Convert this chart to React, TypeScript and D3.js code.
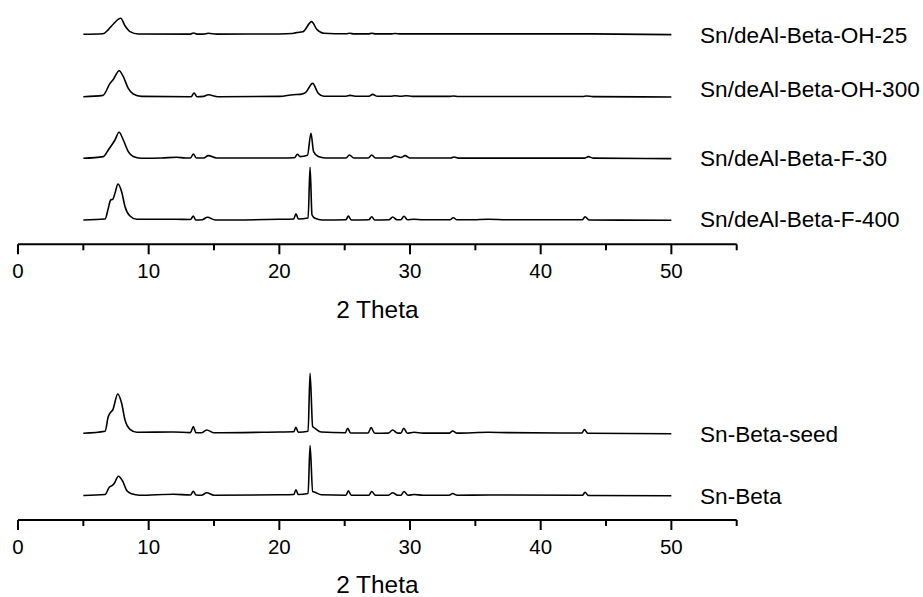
import React from "react";
import * as d3 from "d3";

type Pt = [number, number];

// 2θ (deg) vs intensity (a.u.)
const snDeAlOH25: Pt[] = [[5,0],[6.5,0.5],[6.9,4.5],[7.3,10.3],[7.86,16],[8.2,8.3],[8.57,2.7],[9.2,0.3],[13.2,0.2],[13.42,1.3],[13.7,0.2],[14.2,0.2],[14.56,1],[15.2,0.2],[20,0.3],[21.0,0.8],[21.3,1.7],[21.8,2.5],[22.47,12.7],[22.86,5],[23.4,1],[25.1,0.5],[25.4,1],[25.7,0.4],[26.8,0.4],[27.07,1],[27.4,0.4],[28.5,0.4],[28.85,0.8],[29.3,0.4],[43.8,0.4],[50,-0.3]];
const snDeAlOH300: Pt[] = [[5,0],[6.5,1.3],[7.04,13.3],[7.29,17.3],[7.75,26],[8.06,20],[8.44,8.3],[8.82,2.7],[9.46,0.3],[13.25,0],[13.47,3.7],[13.7,0],[14.2,0.3],[14.56,2],[15.3,0],[20,0.3],[21.07,2],[21.6,2.3],[22.0,4],[22.55,13.3],[22.98,3.3],[23.4,0.5],[25.1,0.4],[25.41,1.3],[25.8,0.4],[26.85,0.4],[27.14,2.3],[27.5,0.4],[28.5,0.4],[28.85,1],[29.3,0.5],[29.69,1],[30.2,0.3],[33.0,0.3],[33.31,0.7],[33.7,0.2],[43.2,0.2],[43.52,0.7],[44,0.1],[50,-0.3]];
const snDeAlF30: Pt[] = [[5,0],[6.53,1.7],[6.91,8.3],[7.17,13.3],[7.42,18.3],[7.73,26],[8.06,18.3],[8.44,6.7],[8.82,1.7],[9.4,0],[11,0.3],[12.14,1],[12.8,0.3],[13.2,0.3],[13.42,4.3],[13.65,0.3],[14.2,0.3],[14.56,2.7],[15.2,0.3],[20,0.3],[21.15,0.5],[21.38,4],[21.6,1.7],[22.15,3],[22.42,25],[22.62,6.7],[22.98,1.7],[23.5,0.3],[25.1,0.3],[25.36,3.3],[25.7,0.3],[26.8,0.3],[27.07,3.3],[27.35,0.3],[28.5,0.3],[28.85,2.3],[29.3,0.8],[29.62,2.7],[30.0,0.3],[33.1,0.3],[33.37,1.3],[33.7,0.2],[43.35,0.2],[43.65,1.7],[44.0,0.2],[50,-0.3]];
const snDeAlF400: Pt[] = [[5,0],[6.66,1],[6.91,11.7],[7.09,20],[7.25,20.7],[7.42,26.7],[7.65,36],[7.93,28.3],[8.19,13.3],[8.57,4],[9.08,0.7],[12,0.7],[13.2,0.5],[13.42,4],[13.6,0],[14.1,0.3],[14.49,2.7],[15.1,0],[20,0.7],[21.1,1],[21.27,6.3],[21.45,1],[22.2,2],[22.35,52.7],[22.5,5],[22.73,1.7],[23.3,0],[25.1,0.3],[25.28,4],[25.5,0],[26.85,0.2],[27.07,3.3],[27.3,0],[28.4,0.3],[28.67,3],[29.0,0.3],[29.3,0.3],[29.54,3.7],[29.8,0.3],[30.25,0.7],[31,0.2],[33.05,0.2],[33.31,2.3],[33.6,0.2],[34.84,0.3],[35.99,0.7],[37.4,0.3],[43.2,0.3],[43.39,3.3],[43.7,0],[50,-0.3]];
const snBetaSeed: Pt[] = [[5,0],[6.66,2],[6.91,16.7],[7.09,21],[7.25,23.3],[7.63,39.3],[7.93,30],[8.19,13.3],[8.57,4],[9.1,1],[11.89,1.3],[13.2,0.7],[13.42,6.7],[13.62,0.5],[14.05,0.5],[14.44,3.3],[15,0.5],[20.05,1.3],[21.1,1.5],[21.27,6],[21.45,1],[22.2,2],[22.35,60],[22.55,6.7],[22.73,5],[23.2,1.3],[25.05,0.5],[25.23,5],[25.45,0.3],[26.8,0.3],[27.02,5.7],[27.3,0],[28.35,0.2],[28.67,3.3],[29.05,0.2],[29.3,0.2],[29.52,5],[29.8,0],[30.31,1],[31,0.2],[33.0,0.2],[33.26,2.3],[33.6,0.2],[36.02,1],[37.4,0.7],[43.15,0.3],[43.34,3.7],[43.6,0],[50,-0.5]];
const snBeta: Pt[] = [[5,0],[6.66,1],[6.99,8.3],[7.17,9.7],[7.35,11.7],[7.68,19.3],[8.01,14.3],[8.32,5],[8.7,1.7],[9.3,0.3],[11.89,1.3],[13.2,0.5],[13.42,4.3],[13.62,0.5],[14.05,0.3],[14.44,2.7],[15,0.3],[20,0.7],[21.1,1],[21.27,5.7],[21.45,1],[22.2,2],[22.35,50],[22.55,4],[22.73,3.3],[23.2,0.7],[25.1,0.3],[25.28,4.7],[25.5,0.3],[26.85,0.3],[27.07,4],[27.35,0.3],[28.35,0.3],[28.67,2.7],[29.05,0.3],[29.3,0.3],[29.54,4],[29.85,0.3],[30.31,1],[31,0.3],[33.0,0.3],[33.26,2],[33.6,0.3],[36.02,0.5],[43.2,0.2],[43.39,3.3],[43.65,0],[50,-0.3]];

const topNames = ["Sn/deAl-Beta-OH-25", "Sn/deAl-Beta-OH-300", "Sn/deAl-Beta-F-30", "Sn/deAl-Beta-F-400"];
const topSeries = [snDeAlOH25, snDeAlOH300, snDeAlF30, snDeAlF400];
const topOffsets = [185.7, 123.3, 61.7, 0];

const bottomNames = ["Sn-Beta-seed", "Sn-Beta"];
const bottomSeries = [snBetaSeed, snBeta];
const bottomOffsets = [62.2, 0];

const xTicks = [0, 10, 20, 30, 40, 50];
const xMinorTicks = [5, 15, 25, 35, 45, 55];
const xTitle = "2 Theta";

const FONT = "'Liberation Sans', Arial, Helvetica, sans-serif";

const x = d3.scaleLinear().domain([0, 55]).range([18, 736.7]);

function Panel({ names, series, offsets, yBase, axisY, labelDy }: {
  names: string[]; series: Pt[][]; offsets: number[]; yBase: number; axisY: number; labelDy: number[];
}) {
  const y = d3.scaleLinear().domain([0, 100]).range([yBase, yBase - 100]);
  return (
    <g>
      {series.map((s, i) => {
        const line = d3.line<Pt>().x(d => x(d[0])).y(d => y(d[1] + offsets[i])).curve(d3.curveMonotoneX);
        return <path key={i} d={line(s) || ""} fill="none" stroke="#000" strokeWidth={1.6} strokeLinejoin="round" />;
      })}
      {names.map((n, i) => (
        <text key={n} x={700} y={y(offsets[i]) + labelDy[i]} fontFamily={FONT} fontSize={22.6} fill="#000">{n}</text>
      ))}
      <line x1={x(0)} x2={x(55)} y1={axisY} y2={axisY} stroke="#000" strokeWidth={2} />
      {xTicks.map(t => (
        <g key={t}>
          <line x1={x(t)} x2={x(t)} y1={axisY} y2={axisY + 10} stroke="#000" strokeWidth={2} />
          <text x={x(t)} y={axisY + 34} textAnchor="middle" fontFamily={FONT} fontSize={20.5} fill="#000">{t}</text>
        </g>
      ))}
      {xMinorTicks.map(t => (
        <line key={t} x1={x(t)} x2={x(t)} y1={axisY} y2={axisY + 6} stroke="#000" strokeWidth={2} />
      ))}
      <text x={(x(0) + x(55)) / 2} y={axisY + 73.4} textAnchor="middle" fontFamily={FONT} fontSize={24.4} fill="#000">{xTitle}</text>
    </g>
  );
}

export default function App() {
  return (
    <svg width={923} height={597} style={{ position: "absolute", left: 0, top: 0, background: "#fff" }}>
      <rect width={923} height={597} fill="#fff" />
      <Panel names={topNames} series={topSeries} offsets={topOffsets} yBase={220} axisY={244.3} labelDy={[8.4, 0, 7.4, 6.7]} />
      <Panel names={bottomNames} series={bottomSeries} offsets={bottomOffsets} yBase={495.5} axisY={520} labelDy={[8.4, 8.3]} />
    </svg>
  );
}
